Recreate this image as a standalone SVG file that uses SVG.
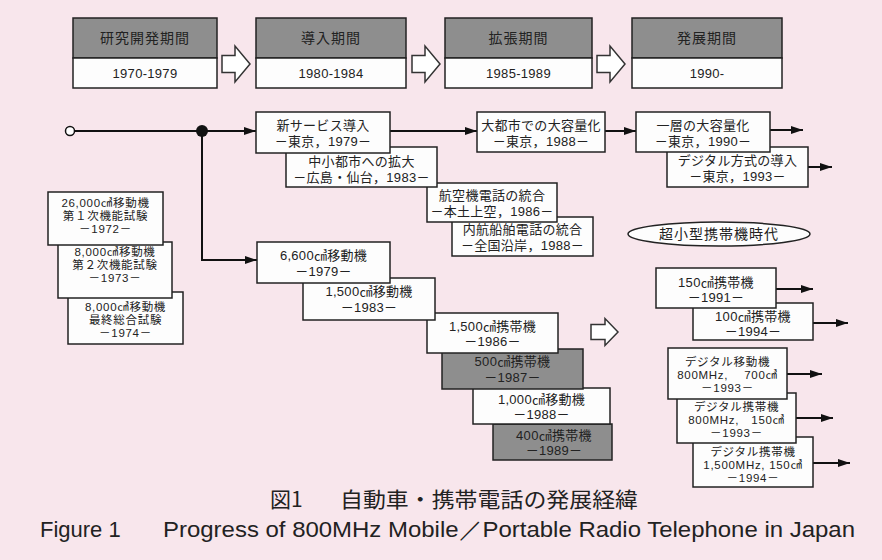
<svg xmlns="http://www.w3.org/2000/svg" width="882" height="560" viewBox="0 0 882 560">
<style>
.bg{fill:#f8e6ec}
.b{fill:#fdfdfd;stroke:#222;stroke-width:1.5}
.g{fill:#8e8e8e;stroke:#222;stroke-width:1.5}
.t{font-family:"Liberation Sans","Noto Sans CJK JP",sans-serif;font-size:13px;fill:#222;text-anchor:middle;letter-spacing:0.3px}
.s{font-family:"Liberation Sans","Noto Sans CJK JP",sans-serif;font-size:11.5px;fill:#222;text-anchor:middle;letter-spacing:0.7px}
.h{font-family:"Liberation Sans","Noto Sans CJK JP",sans-serif;font-size:14px;fill:#222;text-anchor:middle;letter-spacing:1px}
.c{fill:none;stroke:#111;stroke-width:2}
.ha{fill:#fff;stroke:#333;stroke-width:1.5;stroke-linejoin:miter}
.cap{font-family:"Noto Sans CJK JP","Noto Sans",sans-serif;font-size:21px;fill:#222}
.en{font-family:"Liberation Sans","Noto Sans",sans-serif;font-size:22px;fill:#222}
</style>
<defs>
<marker id="ar" viewBox="0 0 12 8" refX="12" refY="4" markerWidth="12" markerHeight="8" markerUnits="userSpaceOnUse" orient="auto">
<path d="M0,0 L12,4 L0,8 z" fill="#111"/>
</marker>
<path id="bigArrow" d="M0,-8.5 H13 V-18 L28,0 L13,18 V8.5 H0 Z"/>
</defs>
<rect class="bg" x="0" y="0" width="882" height="560"/>

<!-- period headers -->
<g id="period1">
<rect class="g" x="73" y="18" width="144" height="40"/>
<rect class="b" x="73" y="58" width="144" height="30"/>
<text class="h" x="145" y="43">研究開発期間</text>
<text class="t" x="145" y="78">1970-1979</text>
</g>
<g id="period2">
<rect class="g" x="256" y="18" width="150" height="40"/>
<rect class="b" x="256" y="58" width="150" height="30"/>
<text class="h" x="331" y="43">導入期間</text>
<text class="t" x="331" y="78">1980-1984</text>
</g>
<g id="period3">
<rect class="g" x="445" y="18" width="147" height="40"/>
<rect class="b" x="445" y="58" width="147" height="30"/>
<text class="h" x="518.5" y="43">拡張期間</text>
<text class="t" x="518.5" y="78">1985-1989</text>
</g>
<g id="period4">
<rect class="g" x="632" y="18" width="150" height="40"/>
<rect class="b" x="632" y="58" width="150" height="30"/>
<text class="h" x="707" y="43">発展期間</text>
<text class="t" x="707" y="78">1990-</text>
</g>

<!-- hollow arrows -->
<g id="hollowArrows">
<use href="#bigArrow" class="ha" transform="translate(222,64)"/>
<use href="#bigArrow" class="ha" transform="translate(412,64)"/>
<use href="#bigArrow" class="ha" transform="translate(597,64)"/>
<path class="ha" d="M591,324.5 H605 V318.5 L618,332 L605,345.5 V339.5 H591 Z"/>
</g>

<!-- connectors -->
<g id="connectors">
<line class="c" x1="74.5" y1="131" x2="256" y2="131" marker-end="url(#ar)"/>
<polyline class="c" points="202,131 202,260 257,260" marker-end="url(#ar)"/>
<line class="c" x1="390" y1="131" x2="477" y2="131" marker-end="url(#ar)"/>
<line class="c" x1="605" y1="131" x2="636" y2="131" marker-end="url(#ar)"/>
<line class="c" x1="770" y1="130" x2="803" y2="130" marker-end="url(#ar)"/>
<line class="c" x1="808" y1="167" x2="832" y2="167" marker-end="url(#ar)"/>
<line class="c" x1="776" y1="289" x2="813" y2="289" marker-end="url(#ar)"/>
<line class="c" x1="813" y1="323" x2="848" y2="323" marker-end="url(#ar)"/>
<line class="c" x1="787" y1="374" x2="822" y2="374" marker-end="url(#ar)"/>
<line class="c" x1="796" y1="418" x2="833" y2="418" marker-end="url(#ar)"/>
<line class="c" x1="813" y1="463" x2="850" y2="463" marker-end="url(#ar)"/>
<circle cx="70" cy="131" r="4.5" fill="#fff" stroke="#111" stroke-width="1.5"/>
<circle cx="202" cy="131" r="6" fill="#111"/>
</g>

<!-- service chain (later first so earlier on top) -->
<g id="n_ship">
<rect class="b" x="452" y="217" width="141" height="39"/>
<text class="t" x="522.5" y="234">内航船舶電話の統合</text>
<text class="t" x="522.5" y="250">－全国沿岸，1988－</text>
</g>
<g id="n_air">
<rect class="b" x="427" y="183" width="130" height="39"/>
<text class="t" x="492" y="200">航空機電話の統合</text>
<text class="t" x="492" y="216">－本土上空，1986－</text>
</g>
<g id="n_city">
<rect class="b" x="286" y="147" width="151" height="40"/>
<text class="t" x="361.5" y="166">中小都市への拡大</text>
<text class="t" x="361.5" y="182">－広島・仙台，1983－</text>
</g>
<g id="n_new">
<rect class="b" x="256" y="112" width="134" height="41"/>
<text class="t" x="323" y="130">新サービス導入</text>
<text class="t" x="323" y="146">－東京，1979－</text>
</g>
<g id="n_big">
<rect class="b" x="477" y="112" width="128" height="40"/>
<text class="t" x="541" y="130">大都市での大容量化</text>
<text class="t" x="541" y="146">－東京，1988－</text>
</g>
<g id="n_digital">
<rect class="b" x="667" y="147" width="141" height="40"/>
<text class="t" x="737.5" y="165">デジタル方式の導入</text>
<text class="t" x="737.5" y="181">－東京，1993－</text>
</g>
<g id="n_more">
<rect class="b" x="636" y="112" width="134" height="40"/>
<text class="t" x="703" y="130">一層の大容量化</text>
<text class="t" x="703" y="146">－東京，1990－</text>
</g>

<!-- left test stack -->
<g id="s3">
<rect class="b" x="68" y="292" width="115" height="52"/>
<text class="s" x="125.5" y="311">8,000㎤移動機</text>
<text class="s" x="125.5" y="324">最終総合試験</text>
<text class="s" x="125.5" y="337">－1974－</text>
</g>
<g id="s2">
<rect class="b" x="58" y="242" width="114" height="56"/>
<text class="s" x="115" y="256">8,000㎤移動機</text>
<text class="s" x="115" y="269">第２次機能試験</text>
<text class="s" x="115" y="282">－1973－</text>
</g>
<g id="s1">
<rect class="b" x="48" y="192" width="115" height="53"/>
<text class="s" x="105.5" y="207">26,000㎤移動機</text>
<text class="s" x="105.5" y="220">第１次機能試験</text>
<text class="s" x="105.5" y="233">－1972－</text>
</g>

<!-- terminal chain -->
<g id="l6">
<rect class="g" x="493" y="424" width="119" height="36"/>
<text class="t" x="554" y="440">400㎤携帯機</text>
<text class="t" x="554" y="455">－1989－</text>
</g>
<g id="l5">
<rect class="b" x="473" y="388" width="137" height="36"/>
<text class="t" x="541.5" y="404">1,000㎤移動機</text>
<text class="t" x="541.5" y="419">－1988－</text>
</g>
<g id="l4">
<rect class="g" x="442" y="349" width="141" height="40"/>
<text class="t" x="512.5" y="366">500㎤携帯機</text>
<text class="t" x="512.5" y="382">－1987－</text>
</g>
<g id="l3">
<rect class="b" x="427" y="313" width="131" height="40"/>
<text class="t" x="492.5" y="331">1,500㎤携帯機</text>
<text class="t" x="492.5" y="346">－1986－</text>
</g>
<g id="l2">
<rect class="b" x="303" y="278" width="132" height="42"/>
<text class="t" x="369" y="296">1,500㎤移動機</text>
<text class="t" x="369" y="312">－1983－</text>
</g>
<g id="l1">
<rect class="b" x="257" y="242" width="133" height="41"/>
<text class="t" x="323.5" y="260">6,600㎤移動機</text>
<text class="t" x="323.5" y="276">－1979－</text>
</g>

<!-- era label -->
<g id="era">
<ellipse cx="719" cy="234" rx="91" ry="12" fill="#fdfdfd" stroke="#222" stroke-width="1.5"/>
<text class="h" x="719" y="239">超小型携帯機時代</text>
</g>

<!-- right column -->
<g id="r2">
<rect class="b" x="693" y="303" width="120" height="37"/>
<text class="t" x="753" y="321">100㎤携帯機</text>
<text class="t" x="753" y="336">－1994－</text>
</g>
<g id="r1">
<rect class="b" x="656" y="268" width="120" height="40"/>
<text class="t" x="716" y="287">150㎤携帯機</text>
<text class="t" x="716" y="302">－1991－</text>
</g>
<g id="d3">
<rect class="b" x="693" y="437" width="120" height="50"/>
<text class="s" x="753" y="456">デジタル携帯機</text>
<text class="s" x="753" y="469">1,500MHz, 150㎤</text>
<text class="s" x="753" y="482">－1994－</text>
</g>
<g id="d2">
<rect class="b" x="677" y="393" width="119" height="50"/>
<text class="s" x="736.5" y="411">デジタル携帯機</text>
<text class="s" x="736.5" y="424">800MHz,　150㎤</text>
<text class="s" x="736.5" y="437">－1993－</text>
</g>
<g id="d1">
<rect class="b" x="668" y="348" width="119" height="51"/>
<text class="s" x="727.5" y="366">デジタル移動機</text>
<text class="s" x="727.5" y="379">800MHz,　 700㎤</text>
<text class="s" x="727.5" y="392">－1993－</text>
</g>

<!-- captions -->
<text class="cap" x="270" y="507">図1</text>
<text class="cap" x="340" y="507" textLength="298" lengthAdjust="spacingAndGlyphs">自動車・携帯電話の発展経緯</text>
<text class="en" x="40" y="537">Figure 1</text>
<text class="en" x="163" y="537" textLength="692" lengthAdjust="spacingAndGlyphs">Progress of 800MHz Mobile／Portable Radio Telephone in Japan</text>
</svg>
